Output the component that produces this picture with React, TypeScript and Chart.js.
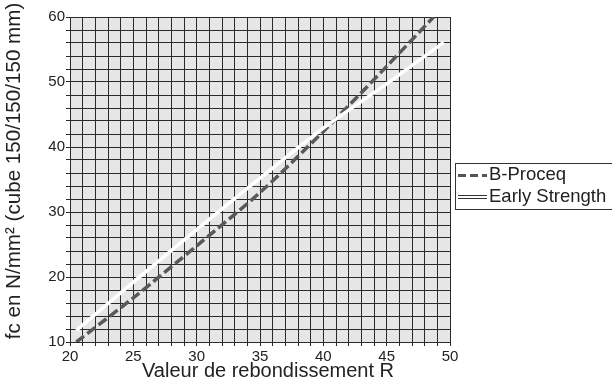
import React, { useEffect, useRef } from "react";
import { Chart, registerables } from "chart.js";

Chart.register(...registerables);

// --- data ---
const bProceqR = [20.5, 25, 30, 35, 40, 45, 48.7];
const bProceqFc = [10, 16.8, 24.8, 33.0, 42.4, 52.4, 60];
const earlyR = [20.5, 25, 30, 35, 40, 45, 49.5];
const earlyFc = [11.8, 19.2, 27.3, 35.2, 42.9, 49.7, 56.1];
const xTickLabels = [20, 25, 30, 35, 40, 45, 50];
const yTickLabels = [10, 20, 30, 40, 50, 60];
const seriesNames = ["B-Proceq", "Early Strength"];
const xTitle = "Valeur de rebondissement R";
const yTitle = "fc en N/mm² (cube 150/150/150 mm)";

const FONT = "'Liberation Sans', Arial, sans-serif";

const customPlugin = {
  id: "custom",
  beforeDraw(chart: any) {
    const { ctx, chartArea: a } = chart;
    ctx.save();
    ctx.fillStyle = "#e6e6e6";
    ctx.fillRect(a.left, a.top, a.right - a.left, a.bottom - a.top);
    ctx.restore();
  },
  afterDraw(chart: any) {
    const { ctx, chartArea: a } = chart;
    ctx.save();
    // axis titles
    ctx.fillStyle = "#222";
    ctx.font = `20px ${FONT}`;
    ctx.textAlign = "center";
    ctx.textBaseline = "middle";
    ctx.fillText(xTitle, (a.left + a.right) / 2 + 8, 371);
    ctx.save();
    ctx.translate(14, 171);
    ctx.rotate(-Math.PI / 2);
    ctx.font = `20.6px ${FONT}`;
    ctx.fillText(yTitle, 0, 0);
    ctx.restore();
    // legend box
    ctx.strokeStyle = "#333";
    ctx.lineWidth = 1;
    ctx.strokeRect(455.5, 163.5, 170, 46);
    // dashed sample
    ctx.beginPath();
    ctx.setLineDash([8, 4]);
    ctx.strokeStyle = "#555";
    ctx.lineWidth = 3;
    ctx.moveTo(458, 175.5);
    ctx.lineTo(487, 175.5);
    ctx.stroke();
    ctx.setLineDash([]);
    // white sample with outline
    ctx.beginPath();
    ctx.strokeStyle = "#333";
    ctx.lineWidth = 4;
    ctx.moveTo(458, 197);
    ctx.lineTo(487, 197);
    ctx.stroke();
    ctx.beginPath();
    ctx.strokeStyle = "#ffffff";
    ctx.lineWidth = 2;
    ctx.moveTo(458, 197);
    ctx.lineTo(487, 197);
    ctx.stroke();
    // texts
    ctx.fillStyle = "#222";
    ctx.font = `18.5px ${FONT}`;
    ctx.textBaseline = "middle";
    ctx.textAlign = "left";
    ctx.fillText(seriesNames[0], 489, 175);
    ctx.fillText(seriesNames[1], 489, 197);
    ctx.restore();
  },
};

export default function App() {
  const ref = useRef<HTMLCanvasElement>(null);
  useEffect(() => {
    if (!ref.current) return;
    const chart = new Chart(ref.current, {
      type: "line",
      data: {
        datasets: [
          {
            label: seriesNames[1],
            data: earlyR.map((r, i) => ({ x: r, y: earlyFc[i] })),
            borderColor: "#ffffff",
            borderWidth: 3.5,
            pointRadius: 0,
            tension: 0.3,
            order: 0,
          },
          {
            label: seriesNames[0],
            data: bProceqR.map((r, i) => ({ x: r, y: bProceqFc[i] })),
            borderColor: "#595959",
            borderWidth: 3.5,
            borderDash: [10, 4],
            pointRadius: 0,
            tension: 0.3,
            order: 1,
          },
        ],
      },
      options: {
        animation: false,
        responsive: false,
        devicePixelRatio: 1,
        layout: { padding: { top: 17, left: 0, right: 162, bottom: 0 } },
        plugins: { legend: { display: false }, tooltip: { enabled: false } },
        scales: {
          x: {
            type: "linear",
            min: 20,
            max: 50,
            afterFit: (s: any) => {
              s.height = 39;
            },
            grid: { color: "#2a2a2a", lineWidth: 1, tickLength: 4, tickColor: "#2a2a2a" },
            border: { color: "#2a2a2a" },
            ticks: {
              stepSize: 1,
              autoSkip: false,
              maxRotation: 0,
              padding: 2,
              color: "#222",
              font: { family: FONT, size: 15 },
              callback: (v: any) => (xTickLabels.includes(Number(v)) ? String(v) : ""),
            },
            title: { display: false },
          },
          y: {
            type: "linear",
            min: 10,
            max: 60,
            afterFit: (s: any) => {
              s.width = 70;
            },
            grid: { color: "#2a2a2a", lineWidth: 1, tickLength: 4, tickColor: "#2a2a2a" },
            border: { color: "#2a2a2a" },
            ticks: {
              stepSize: 2,
              autoSkip: false,
              padding: 1,
              color: "#222",
              font: { family: FONT, size: 15 },
              callback: (v: any) => (yTickLabels.includes(Number(v)) ? String(v) : ""),
            },
            title: { display: false },
          },
        },
      },
      plugins: [customPlugin],
    });
    return () => chart.destroy();
  }, []);
  return (
    <div style={{ position: "absolute", left: 0, top: 0, width: 612, height: 381, background: "#fff" }}>
      <canvas ref={ref} width={612} height={381} style={{ display: "block" }} />
    </div>
  );
}
